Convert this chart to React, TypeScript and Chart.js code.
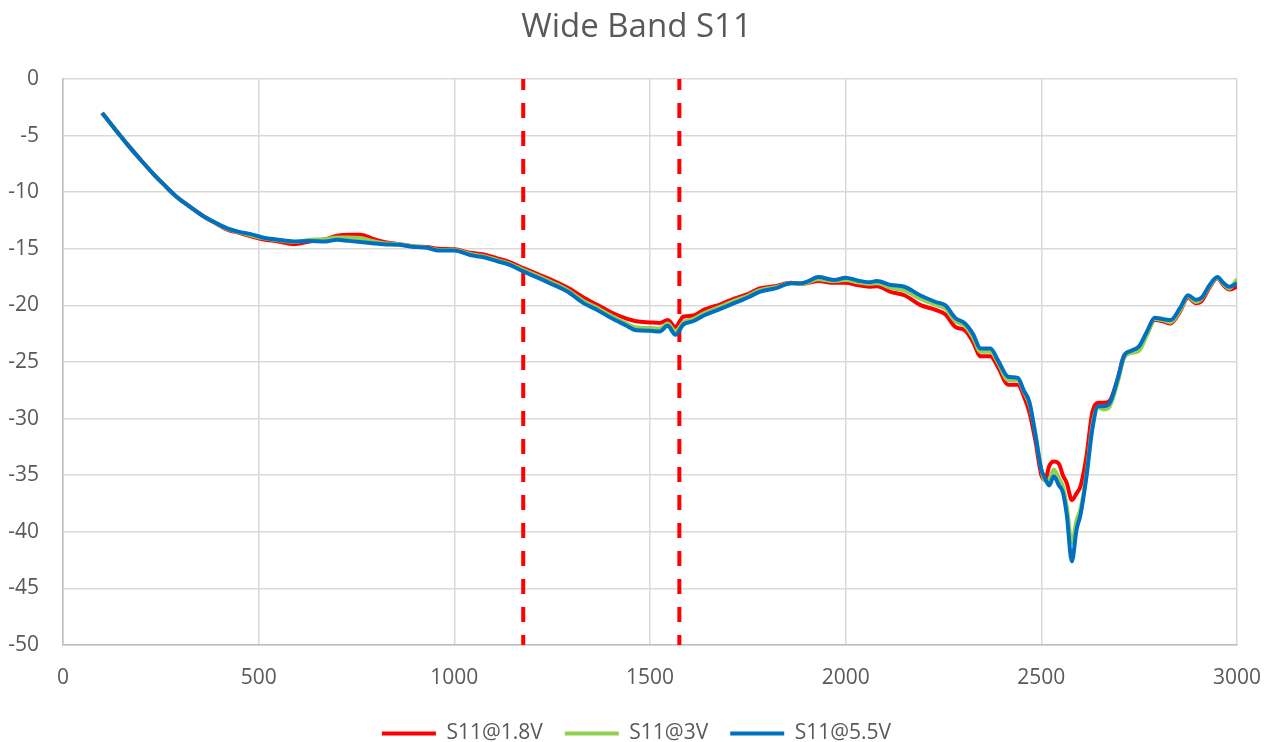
import React, { useEffect, useRef } from "react";
import { Chart, registerables } from "chart.js";

Chart.register(...registerables);

const freqs = [
  100, 130, 165, 200, 230, 260, 290, 325, 360, 390, 420,
  450, 480, 510, 550, 590, 630, 670, 700, 730, 760,
  790, 820, 860, 900, 930, 960, 1000, 1040, 1075, 1110,
  1140, 1176, 1210, 1245, 1290, 1330, 1365, 1400, 1435, 1465,
  1500, 1525, 1545, 1565, 1585, 1610, 1640, 1680, 1715, 1750,
  1780, 1820, 1860, 1885, 1905, 1930, 1970, 2000, 2030, 2060,
  2080, 2115, 2150, 2190, 2230, 2255, 2280, 2305, 2325, 2345,
  2370, 2390, 2415, 2440, 2455, 2470, 2485, 2500, 2510, 2520,
  2532, 2545, 2555, 2565, 2578, 2590, 2600, 2615, 2630, 2645,
  2660, 2675, 2695, 2712, 2730, 2750, 2770, 2790, 2810, 2830,
  2855, 2875, 2895, 2910, 2930, 2950, 2965, 2980, 3000,
];

const s11At1p8V = [
  -3.0, -4.3, -5.8, -7.2, -8.35, -9.4, -10.4, -11.3, -12.15, -12.75, -13.3,
  -13.6, -13.9, -14.15, -14.35, -14.6, -14.35, -14.15, -13.85, -13.75, -13.75,
  -14.1, -14.4, -14.6, -14.8, -14.85, -15.0, -15.05, -15.35, -15.5, -15.85,
  -16.15, -16.7, -17.2, -17.7, -18.45, -19.3, -19.95, -20.6, -21.1, -21.4,
  -21.5, -21.55, -21.3, -21.9, -21.0, -20.9, -20.35, -19.9, -19.4, -19.0,
  -18.5, -18.3, -18.0, -18.1, -18.0, -17.85, -18.0, -18.0, -18.2, -18.35,
  -18.3, -18.8, -19.1, -19.95, -20.4, -20.8, -21.9, -22.2, -23.2, -24.5,
  -24.5, -25.5, -27.0, -27.0, -28.0, -29.5, -32.0, -35.0, -35.4, -34.2,
  -33.8, -34.0, -35.0, -35.7, -37.2, -36.6, -36.0, -33.4, -29.5, -28.6,
  -28.6, -28.4, -26.5, -24.4, -24.1, -23.8, -22.5, -21.3, -21.4, -21.6,
  -20.5, -19.3, -19.8, -19.6, -18.4, -17.6, -18.2, -18.6, -18.35,
];

const s11At3V = [
  -3.0, -4.3, -5.8, -7.2, -8.35, -9.4, -10.4, -11.3, -12.15, -12.72, -13.25,
  -13.55, -13.8, -14.05, -14.25, -14.4, -14.2, -14.15, -14.0, -14.0, -14.05,
  -14.3, -14.5, -14.6, -14.8, -14.9, -15.1, -15.1, -15.45, -15.65, -16.0,
  -16.3, -16.85, -17.35, -17.9, -18.65, -19.6, -20.2, -20.9, -21.5, -21.95,
  -22.0, -22.05, -21.6, -22.3, -21.5, -21.2, -20.65, -20.1, -19.6, -19.15,
  -18.65, -18.4, -18.05, -18.1, -17.95, -17.7, -17.85, -17.75, -17.95, -18.1,
  -18.05, -18.45, -18.7, -19.4, -19.95, -20.3, -21.4, -21.85, -22.8, -24.1,
  -24.1, -25.1, -26.6, -26.6, -27.6, -28.8, -31.3, -34.5, -35.5, -35.4,
  -34.5, -35.3, -36.0, -37.8, -41.0, -39.0, -38.0, -35.0, -30.7, -29.0,
  -29.2, -28.9, -26.8, -24.6, -24.2, -24.0, -22.6, -21.2, -21.3, -21.5,
  -20.4, -19.2, -19.7, -19.4, -18.3, -17.55, -18.1, -18.5, -17.7,
];

const s11At5p5V = [
  -3.0, -4.3, -5.8, -7.2, -8.35, -9.4, -10.4, -11.3, -12.15, -12.7, -13.2,
  -13.5, -13.7, -14.0, -14.2, -14.35, -14.3, -14.35, -14.2, -14.3, -14.4,
  -14.5, -14.6, -14.65, -14.85, -14.9, -15.15, -15.15, -15.55, -15.75, -16.1,
  -16.4, -17.0, -17.5, -18.05, -18.8, -19.8, -20.4, -21.1, -21.7, -22.2,
  -22.25, -22.3, -21.8, -22.6, -21.7, -21.4, -20.85, -20.3, -19.8, -19.3,
  -18.8, -18.5, -18.05, -18.05, -17.85, -17.5, -17.75, -17.55, -17.8, -17.95,
  -17.85, -18.2, -18.35, -19.1, -19.7, -20.0, -21.1, -21.6, -22.5, -23.8,
  -23.8, -24.9, -26.3, -26.4, -27.5, -28.6, -31.5, -34.5, -35.3, -35.9,
  -35.1, -35.9, -36.5, -38.5, -42.6, -39.8, -38.5, -35.2, -31.0, -28.9,
  -28.9, -28.6, -26.5, -24.4, -24.0, -23.6, -22.3, -21.1, -21.2, -21.3,
  -20.2, -19.1, -19.5, -19.3, -18.2, -17.5, -18.0, -18.35, -18.05,
];

const markerFreqs = [1176, 1575];
const yRange = [0, -50];
const seriesNames = ["S11@1.8V", "S11@3V", "S11@5.5V"];
const seriesColors = ["#FF0000", "#92D050", "#0070C0"];
const titleText = "Wide Band S11";

const FONT = "'Open Sans', 'DejaVu Sans', sans-serif";
const TEXT = "#595959";

export default function App() {
  const ref = useRef<HTMLCanvasElement | null>(null);

  useEffect(() => {
    if (!ref.current) return;
    const series = [s11At1p8V, s11At3V, s11At5p5V];
    const lineSets = series.map((vals, i) => ({
      label: seriesNames[i],
      data: freqs.map((f, j) => ({ x: f, y: vals[j] })),
      borderColor: seriesColors[i],
      backgroundColor: seriesColors[i],
      borderWidth: 4,
      pointRadius: 0,
      pointHoverRadius: 0,
      cubicInterpolationMode: "monotone",
      fill: false,
      order: 3 - i,
    }));
    const markerSets = markerFreqs.map((f) => ({
      label: "marker",
      data: yRange.map((y) => ({ x: f, y })),
      borderColor: "#FF0000",
      backgroundColor: "#FF0000",
      borderWidth: 4,
      borderDash: [15, 13],
      borderDashOffset: 4,
      pointRadius: 0,
      fill: false,
      order: 10,
    }));

    const chart = new Chart(ref.current, {
      type: "line",
      data: { datasets: [...lineSets, ...markerSets] as any },
      options: {
        animation: false,
        responsive: false,
        devicePixelRatio: 1,
        layout: { padding: { left: 0, right: 0, top: 0, bottom: -12 } },
        plugins: {
          tooltip: { enabled: false },
          title: {
            display: true,
            text: titleText,
            color: TEXT,
            font: { family: FONT, size: 33, weight: "normal" },
            padding: { top: 8, bottom: 31.4 },
          },
          legend: {
            position: "bottom",
            labels: {
              usePointStyle: true,
              pointStyle: "line",
              pointStyleWidth: 54,
              boxHeight: 21,
              padding: 22,
              color: TEXT,
              font: { family: FONT, size: 21 },
              filter: (item: any) => item.text !== "marker",
              sort: (a: any, b: any) => a.datasetIndex - b.datasetIndex,
            },
          },
        },
        scales: {
          x: {
            type: "linear",
            min: 0,
            max: 3000,
            ticks: {
              stepSize: 500,
              color: TEXT,
              font: { family: FONT, size: 21 },
              padding: 20,
              maxRotation: 0,
              callback: (v: any) => String(v),
            },
            grid: { color: "#d9d9d9", lineWidth: 1.5, drawTicks: false },
            border: { color: "#bfbfbf", width: 1.5 },
            afterFit: (s: any) => {
              s.height = 56;
              s.paddingLeft = 0;
              s.paddingRight = 36;
            },
          },
          y: {
            type: "linear",
            min: -50,
            max: 0,
            ticks: {
              stepSize: 5,
              color: TEXT,
              font: { family: FONT, size: 21 },
              padding: 24,
              callback: (v: any) => String(v),
            },
            grid: { color: "#d9d9d9", lineWidth: 1.5, drawTicks: false },
            border: { color: "#bfbfbf", width: 1.5 },
            afterFit: (s: any) => {
              s.width = 63;
            },
          },
        },
      } as any,
    });
    return () => chart.destroy();
  }, []);

  return (
    <div style={{ position: "fixed", left: 0, top: 0, width: 1273, height: 742, background: "#fff" }}>
      <canvas ref={ref} width={1273} height={742} style={{ display: "block" }} />
    </div>
  );
}
